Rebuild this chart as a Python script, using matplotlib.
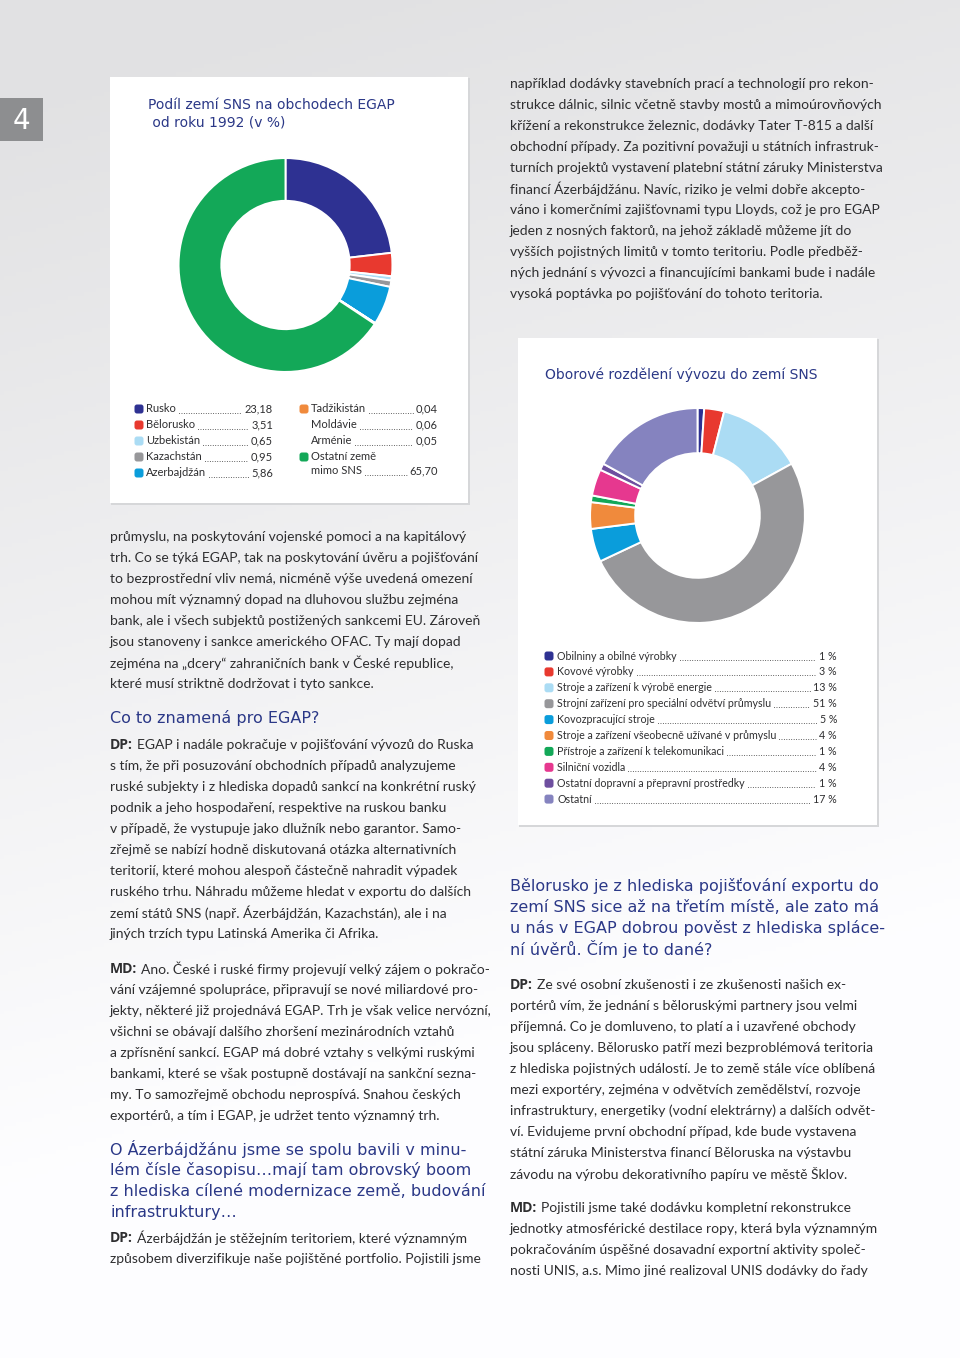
import matplotlib.pyplot as plt
from matplotlib.patches import Rectangle, FancyBboxPatch
import numpy as np

# ---- data ----
countries = ['Rusko', 'Bělorusko', 'Uzbekistán', 'Kazachstán', 'Azerbajdžán',
             'Tadžikistán', 'Moldávie', 'Arménie', 'Ostatní země\nmimo SNS']
shares = [23.18, 3.51, 0.65, 0.95, 5.86, 0.04, 0.06, 0.05, 65.70]
country_colors = ['#2e3192', '#e8392f', '#abdcf4', '#97979a', '#0a9ddb',
                  '#f08a3c', '#e5663a', '#f3b27a', '#13a858']
country_marker = [True, True, True, True, True, True, False, False, True]

sectors = ['Obilniny a obilné výrobky', 'Kovové výrobky',
           'Stroje a zařízení k výrobě energie',
           'Strojní zařízení pro speciální odvětví průmyslu',
           'Kovozpracující stroje',
           'Stroje a zařízení všeobecně užívané v průmyslu',
           'Přístroje a zařízení k telekomunikaci', 'Silniční vozidla',
           'Ostatní dopravní a přepravní prostředky', 'Ostatní']
sector_pct = [1, 3, 13, 51, 5, 4, 1, 4, 1, 17]
sector_colors = ['#2e3192', '#e8392f', '#abdcf4', '#97979a', '#0a9ddb',
                 '#f08a3c', '#13a858', '#e6388f', '#6e4f9f', '#8583bf']

top_right = [
    "například dodávky stavebních prací a technologií pro rekon-",
    "strukce dálnic, silnic včetně stavby mostů a mimoúrovňových",
    "křížení a rekonstrukce železnic, dodávky Tater T-815 a další",
    "obchodní případy. Za pozitivní považuji u státních infrastruk-",
    "turních projektů vystavení platební státní záruky Ministerstva",
    "financí Ázerbájdžánu. Navíc, riziko je velmi dobře akcepto-",
    "váno i komerčními zajišťovnami typu Lloyds, což je pro EGAP",
    "jeden z nosných faktorů, na jehož základě můžeme jít do",
    "vyšších pojistných limitů v tomto teritoriu. Podle předběž-",
    "ných jednání s vývozci a financujícími bankami bude i nadále",
    "vysoká poptávka po pojišťování do tohoto teritoria.",
]
left_top = [
    "průmyslu, na poskytování vojenské pomoci a na kapitálový",
    "trh. Co se týká EGAP, tak na poskytování úvěru a pojišťování",
    "to bezprostřední vliv nemá, nicméně výše uvedená omezení",
    "mohou mít významný dopad na dluhovou službu zejména",
    "bank, ale i všech subjektů postižených sankcemi EU. Zároveň",
    "jsou stanoveny i sankce amerického OFAC. Ty mají dopad",
    "zejména na „dcery“ zahraničních bank v České republice,",
    "které musí striktně dodržovat i tyto sankce.",
]
dp1 = [
    "EGAP i nadále pokračuje v pojišťování vývozů do Ruska",
    "s tím, že při posuzování obchodních případů analyzujeme",
    "ruské subjekty i z hlediska dopadů sankcí na konkrétní ruský",
    "podnik a jeho hospodaření, respektive na ruskou banku",
    "v případě, že vystupuje jako dlužník nebo garantor. Samo-",
    "zřejmě se nabízí hodně diskutovaná otázka alternativních",
    "teritorií, které mohou alespoň částečně nahradit výpadek",
    "ruského trhu. Náhradu můžeme hledat v exportu do dalších",
    "zemí států SNS (např. Ázerbájdžán, Kazachstán), ale i na",
    "jiných trzích typu Latinská Amerika či Afrika.",
]
md1 = [
    "Ano. České i ruské firmy projevují velký zájem o pokračo-",
    "vání vzájemné spolupráce, připravují se nové miliardové pro-",
    "jekty, některé již projednává EGAP. Trh je však velice nervózní,",
    "všichni se obávají dalšího zhoršení mezinárodních vztahů",
    "a zpřísnění sankcí. EGAP má dobré vztahy s velkými ruskými",
    "bankami, které se však postupně dostávají na sankční sezna-",
    "my. To samozřejmě obchodu neprospívá. Snahou českých",
    "exportérů, a tím i EGAP, je udržet tento významný trh.",
]
head1 = ["Co to znamená pro EGAP?"]
head2 = ["O Ázerbájdžánu jsme se spolu bavili v minu-",
         "lém čísle časopisu…mají tam obrovský boom",
         "z hlediska cílené modernizace země, budování",
         "infrastruktury…"]
dp2 = ["Ázerbájdžán je stěžejním teritoriem, které významným",
       "způsobem diverzifikuje naše pojištěné portfolio. Pojistili jsme"]
head3 = ["Bělorusko je z hlediska pojišťování exportu do",
         "zemí SNS sice až na třetím místě, ale zato má",
         "u nás v EGAP dobrou pověst z hlediska spláce-",
         "ní úvěrů. Čím je to dané?"]
dp3 = [
    "Ze své osobní zkušenosti i ze zkušenosti našich ex-",
    "portérů vím, že jednání s běloruskými partnery jsou velmi",
    "příjemná. Co je domluveno, to platí a i uzavřené obchody",
    "jsou spláceny. Bělorusko patří mezi bezproblémová teritoria",
    "z hlediska pojistných událostí. Je to země stále více oblíbená",
    "mezi exportéry, zejména v odvětvích zemědělství, rozvoje",
    "infrastruktury, energetiky (vodní elektrárny) a dalších odvět-",
    "ví. Evidujeme první obchodní případ, kde bude vystavena",
    "státní záruka Ministerstva financí Běloruska na výstavbu",
    "závodu na výrobu dekorativního papíru ve městě Šklov.",
]
md3 = [
    "Pojistili jsme také dodávku kompletní rekonstrukce",
    "jednotky atmosférické destilace ropy, která byla významným",
    "pokračováním úspěšné dosavadní exportní aktivity společ-",
    "nosti UNIS, a.s. Mimo jiné realizoval UNIS dodávky do řady",
]

# ---- styles ----
W, H = 960, 1358
BODY = '#2e2e30'
NAVY = '#2b3887'
BODYF = ['Lato', 'DejaVu Sans']
BOLDF = ['Open Sans', 'DejaVu Sans']
HEADF = ['DejaVu Sans']
BS = 10.0     # body font size
HS = 11.5     # heading font size

fig = plt.figure(figsize=(W / 100, H / 100), dpi=100)
bg = fig.add_axes([0, 0, 1, 1])

# grey page background, lighter towards the bottom
yy, xx = np.mgrid[0:H:4, 0:W:4]
g = 0.885 + 0.11 * np.clip(yy / H * 1.25 + xx / W * 0.25 - 0.1, 0, 1)
bg.imshow(np.dstack([g, g, np.clip(g + 0.006, 0, 1)]), extent=[0, W, H, 0],
          aspect='auto', zorder=0)
bg.set_xlim(0, W)
bg.set_ylim(H, 0)
bg.axis('off')

renderer = fig.canvas.get_renderer()


def put(x, y, s, size=BS, color=BODY, weight='normal', family=BODYF, ha='left'):
    return bg.text(x, y, s, fontsize=size, color=color, fontweight=weight,
                   family=family, ha=ha, va='center', zorder=5)


def para(x, y0, lines, prefix=None, step=21):
    for i, line in enumerate(lines):
        xs = x
        if i == 0 and prefix:
            t = put(x, y0, prefix, size=BS, weight='bold', family=BOLDF)
            xs = t.get_window_extent(renderer).x1 + 4
        put(xs, y0 + i * step, line)


def heading(x, y0, lines, step=21):
    for i, line in enumerate(lines):
        put(x, y0 + i * step, line, size=HS, color=NAVY, family=HEADF)


def card(x, y, w, h):
    bg.add_patch(Rectangle((x + 1, y + 1), w + 1, h + 1, fc='#d6d7d9', ec='none', zorder=1))
    bg.add_patch(Rectangle((x, y), w, h, fc='white', ec='none', zorder=2))


def marker(x, y, c):
    bg.add_patch(FancyBboxPatch((x - 4.5, y - 4.5), 9, 9, boxstyle='round,pad=0,rounding_size=2.5',
                                fc=c, ec='none', zorder=5))


def leader(label, value_text, y):
    x0 = label.get_window_extent(renderer).x1 + 3
    x1 = value_text.get_window_extent(renderer).x0 - 3
    bg.plot([x0, x1], [y + 3.5, y + 3.5], color='#333333', lw=0.7,
            linestyle=(0, (0.1, 2.4)), dash_capstyle='round', zorder=5)


def donut(cx, cy, r, vals, cols, width):
    ax = fig.add_axes([(cx - r) / W, 1 - (cy + r) / H, 2 * r / W, 2 * r / H])
    ax.pie(vals, colors=cols, startangle=90, counterclock=False, radius=1,
           wedgeprops=dict(width=width, edgecolor='white', linewidth=1.4))
    ax.set_xlim(-1.01, 1.01)
    ax.set_ylim(-1.01, 1.01)
    ax.set_aspect('equal')
    ax.axis('off')


# page number
bg.add_patch(Rectangle((0, 98), 43, 43, fc='#8d8e90', ec='none', zorder=2))
put(21, 121, '4', size=20, color='white', family=['DejaVu Sans'], ha='center')

# ---- card 1 ----
card(110, 77, 358, 426)
put(148, 105, 'Podíl zemí SNS na obchodech EGAP', size=10, color=NAVY, family=HEADF)
put(148, 122, ' od roku 1992 (v %)', size=10, color=NAVY, family=HEADF)
donut(285.5, 265, 108, shares, country_colors, 0.4)

LS1 = 8.0
rows1 = [(139, 146, 273, 409), (139, 146, 273, 425), (139, 146, 273, 441),
         (139, 146, 273, 457), (139, 146, 273, 473),
         (304, 311, 438, 409), (304, 311, 438, 425), (304, 311, 438, 441),
         (304, 311, 438, 457)]
for name, v, c, m, (mx, tx, vx, y) in zip(countries, shares, country_colors,
                                          country_marker, rows1):
    if m:
        marker(mx, y, c)
    parts = name.split('\n')
    if len(parts) == 2:
        put(tx, y, parts[0], size=LS1)
        y = y + 14
    lab = put(tx, y, parts[-1], size=LS1)
    val = put(vx, y, f'{v:.2f}'.replace('.', ','), size=LS1, ha='right')
    leader(lab, val, y)

# ---- card 2 ----
card(518, 338, 359, 487)
put(545, 375, 'Oborové rozdělení vývozu do zemí SNS', size=10, color=NAVY, family=HEADF)
donut(697.5, 515.5, 108.5, sector_pct, sector_colors, 0.42)
LS2 = 7.7
for i, (name, p, c) in enumerate(zip(sectors, sector_pct, sector_colors)):
    y = 656 + i * 15.9
    marker(549, y, c)
    lab = put(557, y, name, size=LS2)
    val = put(837, y, f'{p} %', size=LS2, ha='right')
    leader(lab, val, y)

# ---- article text ----
para(510, 84, top_right)
para(110, 537, left_top)
heading(110, 718, head1)
para(110, 745, dp1, prefix='DP:')
para(110, 969, md1, prefix='MD:')
heading(110, 1149, head2)
para(110, 1238, dp2, prefix='DP:')
heading(510, 886, head3)
para(510, 985, dp3, prefix='DP:')
para(510, 1208, md3, prefix='MD:')

fig.savefig('out.png', dpi=100)
